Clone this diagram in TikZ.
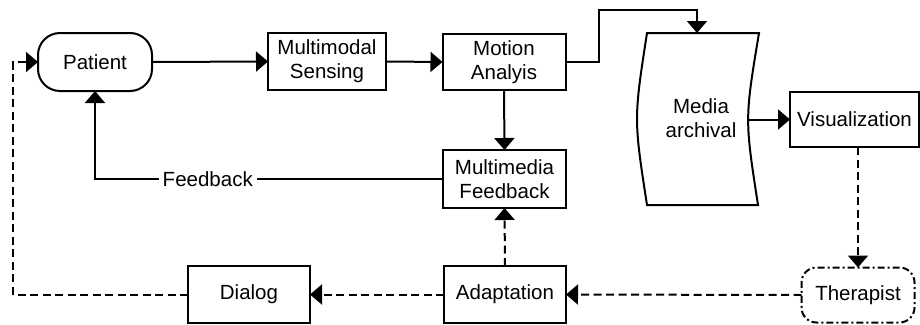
\documentclass[tikz,border=0pt]{standalone}
\usepackage{fontspec}
\setmainfont{Liberation Sans}
\usetikzlibrary{arrows.meta}
\begin{document}
\begin{tikzpicture}[x=1pt,y=-1pt,
  every node/.style={font=\fontsize{20.5}{24}\selectfont},
  box/.style={draw, line width=2pt, inner sep=0pt, outer sep=0pt, align=center},
  arr/.style={line width=2pt, -{Triangle[length=12pt,width=20pt]}},
  darr/.style={arr, dash pattern=on 8pt off 4.5pt},
  dline/.style={line width=2pt, dash pattern=on 8pt off 4.5pt}]
\useasboundingbox (0,0) rectangle (920,324);
\node[box, rounded corners=22pt, minimum width=114pt, minimum height=58pt] (pat) at (95,62) {Patient};
\node[box, minimum width=118pt, minimum height=57pt] (ms) at (327,61.5) {Multimodal\\Sensing};
\node[box, minimum width=123pt, minimum height=56pt] (ma) at (504,62) {Motion\\Analyis};
\node[box, minimum width=123pt, minimum height=58pt] (mf) at (504.5,179) {Multimedia\\Feedback};
\node[box, minimum width=122pt, minimum height=57pt] (ad) at (505,294.5) {Adaptation};
\node[box, minimum width=122pt, minimum height=57pt] (dl) at (249,294.5) {Dialog};
\node[box, rounded corners=15pt, dash pattern=on 7pt off 3pt on 2pt off 3pt, minimum width=113pt, minimum height=55pt] (th) at (858,295) {Therapist};
\node[box, minimum width=129pt, minimum height=55pt] (vis) at (854.5,119.5) {Visualization};
% Media archival shape
\draw[line width=2pt, line join=miter] (647,33) -- (759,33) .. controls (744.7,119) .. (758,205) -- (647,205) .. controls (633.7,119) .. cycle;
\node[align=center, inner sep=0pt] (mar) at (701,118) {Media\\archival};
\coordinate (marn) at (697,33);
\coordinate (mare) at (748.2,119.5);
\coordinate (j1) at (599,10);
\coordinate (lc) at (13,294.5);
% connectors
\draw[arr] (pat.east) -- (ms.west);
\draw[arr] (ms.east) -- (ma.west);
\draw[arr] (ma.east) -| (j1) -| (marn);
\draw[arr] (mare) -- (vis.west);
\draw[arr] (ma.south) -- (mf.north);
\draw[arr] (mf.west) -| node[pos=0.338, fill=white, inner xsep=4pt, inner ysep=1pt]{Feedback} (pat.south);
\draw[darr] (vis.south -| th.north) -- (th.north);
\draw[darr] (th.west) -- (ad.east);
\draw[darr] (ad.west) -- (dl.east);
\draw[darr] (ad.north) -- (mf.south);
\draw[dline] (dl.west) -- (lc);
\draw[darr] (lc) |- (pat.west);
\end{tikzpicture}
\end{document}
